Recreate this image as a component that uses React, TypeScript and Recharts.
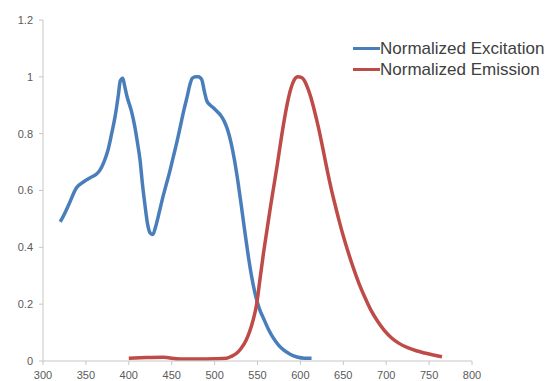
import React from "react";
import { LineChart, Line, XAxis, YAxis, Legend } from "recharts";

const excitationWl = [320, 322, 330, 339, 347, 355, 361, 366, 371, 376, 380, 384, 388, 390, 393, 395, 398, 403, 407, 410, 413, 416, 419, 422, 425, 428, 431, 436, 440, 444, 448, 452, 456, 460, 464, 468, 471, 474, 478, 481, 485, 488, 491, 495, 499, 503, 507, 511, 515, 519, 523, 527, 531, 535, 539, 543, 547, 552, 557, 563, 568, 574, 580, 588, 596, 605, 613];
const excitationVal = [0.49, 0.5, 0.55, 0.61, 0.63, 0.645, 0.655, 0.67, 0.7, 0.745, 0.8, 0.86, 0.94, 0.985, 0.995, 0.97, 0.93, 0.88, 0.825, 0.77, 0.71, 0.62, 0.545, 0.48, 0.45, 0.445, 0.47, 0.53, 0.58, 0.625, 0.67, 0.72, 0.77, 0.825, 0.88, 0.93, 0.97, 0.995, 1.0, 1.0, 0.99, 0.95, 0.915, 0.9, 0.89, 0.878, 0.865, 0.845, 0.815, 0.77, 0.71, 0.635, 0.55, 0.46, 0.375, 0.3, 0.24, 0.185, 0.15, 0.11, 0.083, 0.058, 0.04, 0.024, 0.014, 0.01, 0.01];

const emissionWl = [400, 420, 440, 460, 480, 500, 514, 520, 526, 531, 537, 541, 545, 549, 553, 557, 561, 565, 569, 573, 577, 581, 585, 589, 593, 597, 601, 604, 608, 612, 616, 620, 624, 628, 632, 636, 640, 645, 650, 656, 662, 668, 675, 682, 690, 698, 706, 715, 725, 735, 745, 755, 765];
const emissionVal = [0.01, 0.012, 0.013, 0.007, 0.007, 0.008, 0.01, 0.017, 0.028, 0.045, 0.075, 0.105, 0.145, 0.2, 0.29, 0.38, 0.46, 0.54, 0.615, 0.69, 0.77, 0.845, 0.91, 0.96, 0.99, 1.0, 0.998, 0.99, 0.965, 0.93, 0.885, 0.835, 0.78, 0.72, 0.66, 0.605, 0.555, 0.495, 0.44, 0.38, 0.325, 0.275, 0.225, 0.18, 0.14, 0.107, 0.082, 0.062, 0.047, 0.036, 0.028, 0.021, 0.015];

const xTicks = [300, 350, 400, 450, 500, 550, 600, 650, 700, 750, 800];
const yTicks = [0, 0.2, 0.4, 0.6, 0.8, 1, 1.2];

const seriesNames = ["Normalized Excitation", "Normalized Emission"];
const seriesColors = ["#4a7ebb", "#be4b48"];

const excitationData = excitationWl.map((wl, i) => ({ wl, v: excitationVal[i] }));
const emissionData = emissionWl.map((wl, i) => ({ wl, v: emissionVal[i] }));

const renderLegend = () => (
  <div style={{ fontFamily: "'Liberation Sans', Arial, sans-serif", fontSize: 17, color: "#404040" }}>
    {seriesNames.map((name, i) => (
      <div key={name} style={{ display: "flex", alignItems: "center", height: 21, whiteSpace: "nowrap" }}>
        <div style={{ width: 27, height: 3, background: seriesColors[i] }} />
        <span>{name}</span>
      </div>
    ))}
  </div>
);

export default function App() {
  const tickStyle = { fontSize: 11, fill: "#5a5a5a", fontFamily: "'Liberation Sans', Arial, sans-serif" };
  return (
    <div style={{ position: "absolute", left: 0, top: 0, background: "#fff" }}>
      <LineChart width={551} height={381} margin={{ top: 20, right: 79, bottom: 0, left: 0 }}>
        <XAxis
          type="number"
          dataKey="wl"
          domain={[300, 800]}
          ticks={xTicks}
          allowDataOverflow
          stroke="#c6c6c6"
          tick={tickStyle}
          tickSize={4}
          tickMargin={6}
          height={20}
        />
        <YAxis
          type="number"
          dataKey="v"
          domain={[0, 1.2]}
          ticks={yTicks}
          stroke="#c6c6c6"
          tick={tickStyle}
          tickSize={4}
          tickMargin={6}
          width={43}
        />
        <Legend
          layout="horizontal"
          verticalAlign="middle"
          align="center"
          content={renderLegend}
          wrapperStyle={{ left: 353, top: 38, width: 200, position: "absolute" }}
        />
        <Line
          data={excitationData}
          dataKey="v"
          name={seriesNames[0]}
          stroke={seriesColors[0]}
          strokeWidth={3.5}
          dot={false}
          type="monotone"
          isAnimationActive={false}
        />
        <Line
          data={emissionData}
          dataKey="v"
          name={seriesNames[1]}
          stroke={seriesColors[1]}
          strokeWidth={3.5}
          dot={false}
          type="monotone"
          isAnimationActive={false}
        />
      </LineChart>
    </div>
  );
}
